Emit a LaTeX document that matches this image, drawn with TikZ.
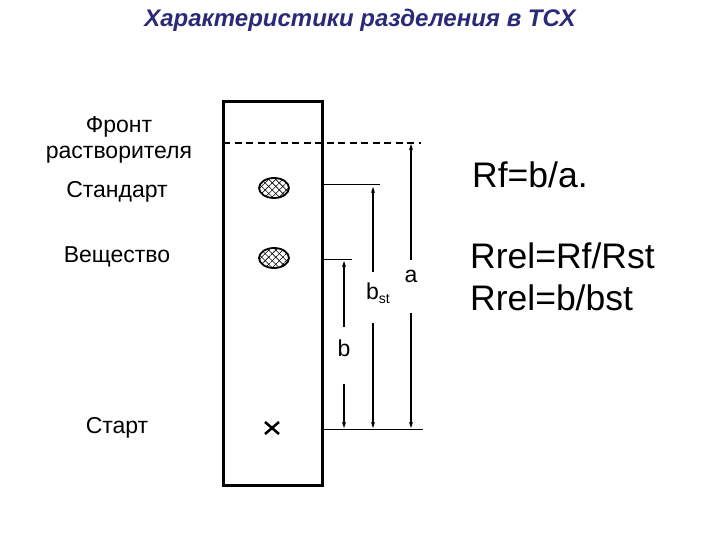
\documentclass[tikz,border=0pt]{standalone}
\usepackage{fontspec}
\setmainfont{Liberation Sans}
\usetikzlibrary{patterns,patterns.meta,arrows.meta,shapes.geometric,calc}
\definecolor{titleblue}{RGB}{42,42,120}
\begin{document}
\begin{tikzpicture}[x=1pt,y=-1pt,
  lbl/.style={font=\fontsize{23}{26}\selectfont, inner sep=0pt, anchor=base},
  big/.style={font=\fontsize{35.5}{40}\selectfont, inner sep=0pt, anchor=base west},
  dim/.style={line width=1.5pt, -{Stealth[length=6pt,width=4pt]}},
  thinl/.style={line width=1pt},
  spot/.style={draw, line width=1.8pt, ellipse, minimum width=30pt, minimum height=20pt, inner sep=0pt,
     preaction={pattern={Lines[angle=45,distance=5pt,line width=0.6pt]}},
     pattern={Lines[angle=-45,distance=5pt,line width=0.6pt]}}]
\useasboundingbox (0,0) rectangle (720,540);
% title
\node[font=\fontsize{24}{27}\selectfont\bfseries\itshape, text=titleblue, inner sep=0pt, anchor=base] (title) at (360,27) {Характеристики разделения в ТСХ};
% plate
\draw[line width=3pt] (223,102) rectangle (322,485);
% solvent front
\coordinate (fL) at (223,143);
\coordinate (fR) at (421,143);
\draw[line width=2.5pt, dash pattern=on 7pt off 4.5pt] (fL) -- (fR);
% spots
\node[spot] (std) at (274,188) {};
\node[spot] (sub) at (274,258) {};
% cross
\coordinate (xc) at (272,428);
\draw[line width=2.5pt] ($(xc)+(-7,-6)$) -- ($(xc)+(7,6)$) ($(xc)+(-7,6)$) -- ($(xc)+(7,-6)$);
% level lines
\coordinate (sL) at (322,185); \coordinate (sR) at (380,185);
\coordinate (vL) at (322,259); \coordinate (vR) at (352,259);
\coordinate (tL) at (322,429); \coordinate (tR) at (423,429);
\draw[thinl] (sL) -- (sR);
\draw[thinl] (vL) -- (vR);
\draw[thinl] (tL) -- (tR);
% arrow a
\coordinate (aT) at (411,144); \coordinate (aM1) at (411,260);
\coordinate (aM2) at (411,313); \coordinate (aB) at (411,428);
\draw[dim] (aM1) -- (aT);
\draw[dim] (aM2) -- (aB);
\node[lbl] (la) at (411,282) {a};
% arrow bst
\coordinate (bsT) at (373,187); \coordinate (bsM1) at (373,272);
\coordinate (bsM2) at (373,323); \coordinate (bsB) at (373,428);
\draw[dim] (bsM1) -- (bsT);
\draw[dim] (bsM2) -- (bsB);
\node[lbl] (lbs) at (378,299) {b\raisebox{-0.35ex}{\fontsize{14}{16}\selectfont st}};
% arrow b
\coordinate (bT) at (344,261); \coordinate (bM1) at (344,327);
\coordinate (bM2) at (344,384); \coordinate (bB) at (344,428);
\draw[dim] (bM1) -- (bT);
\draw[dim] (bM2) -- (bB);
\node[lbl] (lb) at (344,356) {b};
% left labels
\node[lbl] (front1) at (119,133) {Фронт};
\node[lbl] (front2) at (119,159) {растворителя};
\node[lbl] (lstd) at (117,197) {Стандарт};
\node[lbl] (lsub) at (117,262) {Вещество};
\node[lbl] (lstart) at (117,433) {Старт};
% formulas
\node[big] (rf) at (472,188) {Rf=b/a.};
\node[big] (rr1) at (470,268) {Rrel=Rf/Rst};
\node[big] (rr2) at (470,310) {Rrel=b/bst};
\end{tikzpicture}
\end{document}
